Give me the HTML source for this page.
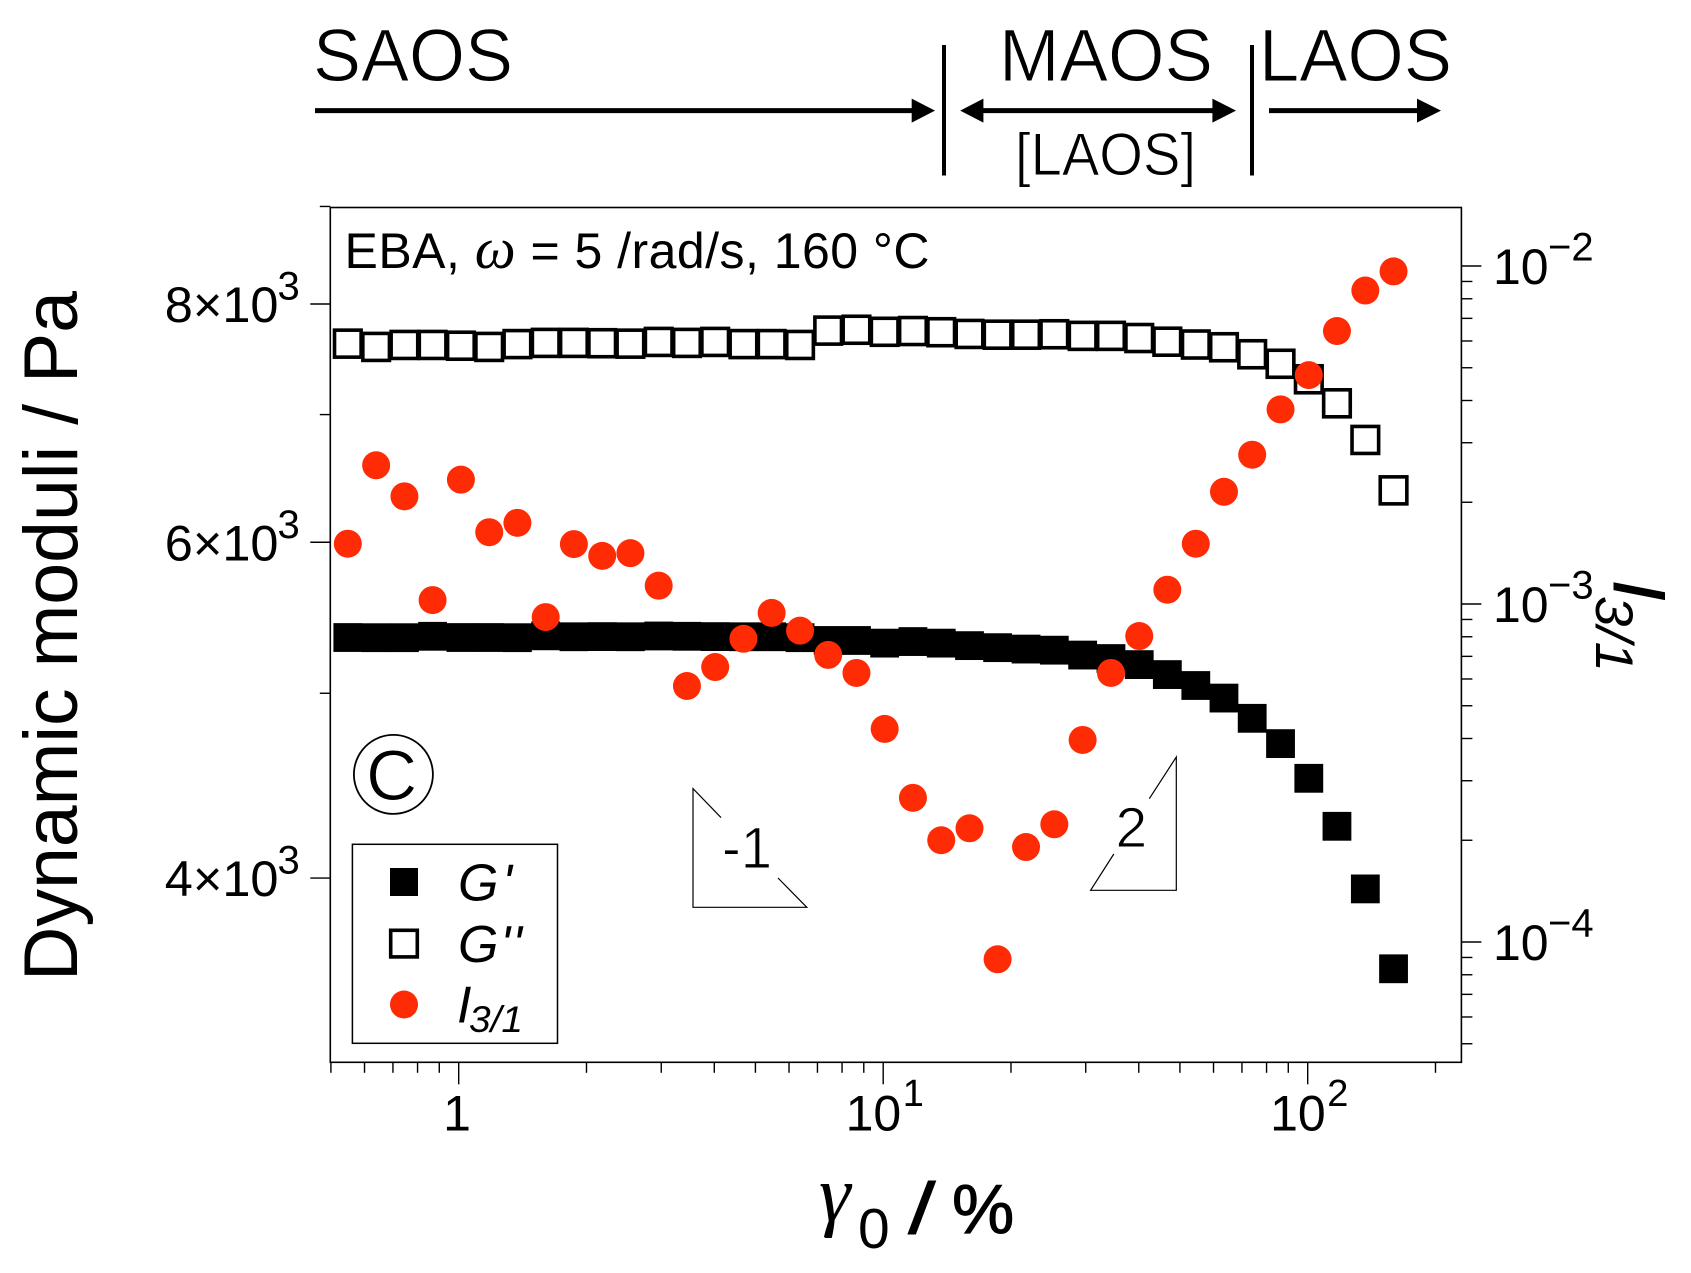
<!DOCTYPE html>
<html lang="en">
<head>
<meta charset="utf-8">
<title>Dynamic moduli and I3/1 versus strain amplitude</title>
<style>
html,body{margin:0;padding:0;background:#fff;}
svg{display:block;}
text{font-family:"Liberation Sans",sans-serif;fill:#000;}
.thin{stroke:#fff;stroke-width:1px;}
</style>
</head>
<body>
<svg id="chart" xmlns="http://www.w3.org/2000/svg" width="1691" height="1273" viewBox="0 0 1691 1273">
  <rect x="0" y="0" width="1691" height="1273" fill="#fff"/>

  <g>
    <text class="thin" x="313" y="81" font-size="74" textLength="200" lengthAdjust="spacingAndGlyphs">SAOS</text>
    <text class="thin" x="999" y="81" font-size="74" textLength="214" lengthAdjust="spacingAndGlyphs">MAOS</text>
    <text class="thin" x="1259" y="81" font-size="74" textLength="193" lengthAdjust="spacingAndGlyphs">LAOS</text>
    <text class="thin" x="1015" y="175" font-size="60" textLength="181" lengthAdjust="spacingAndGlyphs">[LAOS]</text>
    <line x1="315" y1="110.6" x2="915" y2="110.6" stroke="#000" stroke-width="5"/>
    <polygon points="911.7,98.6 935,110.6 911.7,122.6" fill="#000"/>
    <line x1="980" y1="110.6" x2="1216" y2="110.6" stroke="#000" stroke-width="5"/>
    <polygon points="983.4,98.6 960.2,110.6 983.4,122.6" fill="#000"/>
    <polygon points="1212.4,98.6 1236,110.6 1212.4,122.6" fill="#000"/>
    <line x1="1269" y1="110.6" x2="1420" y2="110.6" stroke="#000" stroke-width="5"/>
    <polygon points="1417,98.6 1441,110.6 1417,122.6" fill="#000"/>
    <line x1="944" y1="45" x2="944" y2="175.5" stroke="#000" stroke-width="4"/>
    <line x1="1252" y1="45" x2="1252" y2="175.5" stroke="#000" stroke-width="4"/>
  </g>

  <rect x="330.3" y="207.5" width="1131.1" height="854.8" fill="none" stroke="#000" stroke-width="1.6"/>
  <g id="ticks"></g>
  <g id="tick-labels"></g>

  <text transform="translate(77,981) rotate(-90)" font-size="76" textLength="690" lengthAdjust="spacingAndGlyphs">Dynamic moduli / Pa</text>

  <g>
    <text x="819" y="1221" font-size="80" font-style="italic" style="font-family:'Liberation Serif',serif">γ</text>
    <text x="858" y="1248" font-size="57">0</text>
    <text x="910" y="1233" font-size="72" font-weight="bold" font-style="italic">/</text>
    <text x="952" y="1233" font-size="70" stroke="#000" stroke-width="1">%</text>
  </g>

  <g>
    <text transform="translate(1614,580) rotate(90)" font-size="73" font-style="italic" stroke="#000" stroke-width="1">I</text>
    <text transform="translate(1596,596) rotate(90)" font-size="53" font-style="italic" textLength="76" lengthAdjust="spacingAndGlyphs">3/1</text>
  </g>

  <text x="344.5" y="268" font-size="50" textLength="585" lengthAdjust="spacing">EBA, <tspan font-style="italic" font-size="58" style="font-family:'Liberation Serif',serif">ω</tspan> = 5 /rad/s, 160 °C</text>

  <g>
    <circle cx="393.4" cy="774.4" r="39.5" fill="none" stroke="#000" stroke-width="1.8"/>
    <text class="thin" x="366" y="800" font-size="71">C</text>
  </g>

  <g>
    <polyline points="721,817.6 693,788.6 693,907.3 806.8,907.3 778,878" fill="none" stroke="#000" stroke-width="1.2"/>
    <text class="thin" x="722" y="868" font-size="58" textLength="50" lengthAdjust="spacingAndGlyphs">-1</text>
  </g>
  <g>
    <polyline points="1149.3,798.7 1176.3,757 1176.3,890.3 1090.6,890.3 1113.8,854" fill="none" stroke="#000" stroke-width="1.2"/>
    <text class="thin" x="1115.5" y="847" font-size="57">2</text>
  </g>

  <g id="series-g-prime"></g>
  <g id="series-g-double-prime"></g>
  <g id="series-i31"></g>

  <g>
    <rect x="352.4" y="844.3" width="205.1" height="199" fill="#fff" fill-opacity="0" stroke="#000" stroke-width="1.5"/>
    <rect x="390" y="868" width="28" height="28" fill="#000"/>
    <text x="458" y="900.4" font-size="52" font-style="italic" textLength="54" lengthAdjust="spacing">G'</text>
    <rect x="390.7" y="930.3" width="26.6" height="26.6" fill="none" stroke="#000" stroke-width="3.6"/>
    <text x="458" y="961.8" font-size="52" font-style="italic" textLength="64" lengthAdjust="spacing">G''</text>
    <circle cx="404" cy="1004.5" r="14" fill="#ff2b05"/>
    <text x="457" y="1022.3" font-size="52" font-style="italic">I</text>
    <text x="469" y="1032" font-size="37" font-style="italic" textLength="54" lengthAdjust="spacingAndGlyphs">3/1</text>
  </g>
</svg>

<script>
var strainValues = [0.548,0.639,0.745,0.868,1.012,1.18,1.375,1.603,1.868,2.178,2.538,2.959,3.449,4.02,4.686,5.46,6.37,7.42,8.65,10.08,11.75,13.7,15.97,18.6,21.7,25.3,29.5,34.4,40.1,46.7,54.5,63.5,74.0,86.3,100.6,117.2,136.7,159.3];
var gPrimeValues = [5348,5347,5347,5356,5348,5348,5347,5359,5353,5354,5353,5358,5356,5354,5353,5353,5347,5329,5329,5312,5322,5312,5296,5283,5274,5267,5236,5214,5176,5114,5047,4971,4851,4705,4512,4258,3948,3585];
var gDoublePrimeValues = [7626,7596,7614,7614,7607,7596,7622,7633,7633,7630,7626,7642,7633,7642,7622,7622,7614,7747,7755,7736,7743,7732,7716,7709,7709,7713,7698,7698,7678,7644,7618,7593,7529,7443,7305,7096,6789,6388];
var i31Values = [1.508e-3,2.573e-3,2.082e-3,1.027e-3,2.333e-3,1.631e-3,1.738e-3,9.145e-4,1.504e-3,1.388e-3,1.414e-3,1.133e-3,5.72e-4,6.51e-4,7.89e-4,9.41e-4,8.34e-4,7.07e-4,6.25e-4,4.27e-4,2.67e-4,2.0e-4,2.17e-4,8.89e-5,1.91e-4,2.23e-4,3.96e-4,6.25e-4,8.04e-4,1.102e-3,1.508e-3,2.148e-3,2.765e-3,3.765e-3,4.755e-3,6.42e-3,8.46e-3,9.64e-3];

var xMajorTicks = [1,10,100];
var xMajorBases = ["1","10","10"];
var xMajorExponents = ["","1","2"];
var xMinorTicks = [0.5,0.6,0.7,0.8,0.9,2,3,4,5,6,7,8,9,20,30,40,50,60,70,80,90,200];
var leftMajorTicks = [8000,6000,4000];
var leftMajorBases = ["8×10","6×10","4×10"];
var leftMajorExponents = ["3","3","3"];
var leftMinorTicks = [9000,7000,5000];
var rightMajorTicks = [1e-2,1e-3,1e-4];
var rightMajorBases = ["10","10","10"];
var rightMajorExponents = ["−2","−3","−4"];
var rightMinorTicks = [9e-3,8e-3,7e-3,6e-3,5e-3,4e-3,3e-3,2e-3,9e-4,8e-4,7e-4,6e-4,5e-4,4e-4,3e-4,2e-4,9e-5,8e-5,7e-5,6e-5,5e-5];

var SVG_NS = "http://www.w3.org/2000/svg";
var PLOT_LEFT = 330.3, PLOT_RIGHT = 1461.4, PLOT_BOTTOM = 1062.3;

function xScale(v){ return 458.7 + 424.5 * Math.log10(v); }
function yLeft(v){ return 304 + 1907 * Math.log10(8000 / v); }
function yRight(v){ return 266 + 338 * (-2 - Math.log10(v)); }

var ticksGroup = document.getElementById('ticks');
var labelsGroup = document.getElementById('tick-labels');

function addTick(name, x1, y1, x2, y2){
  var el = document.createElementNS(SVG_NS, 'line');
  
  
  el.setAttribute('x1', x1);
  el.setAttribute('y1', y1);
  el.setAttribute('x2', x2);
  el.setAttribute('y2', y2);
  el.setAttribute('stroke', '#000');
  el.setAttribute('stroke-width', '1.4');
  ticksGroup.appendChild(el);
}

function addLabel(name, str, x, y, size, anchor){
  var el = document.createElementNS(SVG_NS, 'text');
  
  
  el.setAttribute('x', x);
  el.setAttribute('y', y);
  el.setAttribute('font-size', size);
  el.setAttribute('text-anchor', anchor);
  el.textContent = str;
  labelsGroup.appendChild(el);
}

xMinorTicks.forEach(function(v){
  addTick('x-minor-tick', xScale(v), PLOT_BOTTOM, xScale(v), PLOT_BOTTOM + 10.5);
});
xMajorTicks.forEach(function(v, i){
  var px = xScale(v);
  addTick('x-major-tick', px, PLOT_BOTTOM, px, PLOT_BOTTOM + 22);
  if (xMajorExponents[i] === "") {
    addLabel('x-tick-label', xMajorBases[i], px - 1.7, 1130.5, 50, 'middle');
  } else {
    addLabel('x-tick-label', xMajorBases[i], px + 18, 1130.5, 50, 'end');
    addLabel('x-tick-exponent', xMajorExponents[i], px + 19.5, 1106, 38, 'start');
  }
});

leftMinorTicks.forEach(function(v){
  addTick('left-minor-tick', PLOT_LEFT - 10.5, yLeft(v), PLOT_LEFT, yLeft(v));
});
leftMajorTicks.forEach(function(v, i){
  var py = yLeft(v);
  addTick('left-major-tick', PLOT_LEFT - 20, py, PLOT_LEFT, py);
  addLabel('left-tick-label', leftMajorBases[i], 278.5, py + 18, 50.5, 'end');
  addLabel('left-tick-exponent', leftMajorExponents[i], 277.5, py - 4.5, 40, 'start');
});

rightMinorTicks.forEach(function(v){
  addTick('right-minor-tick', PLOT_RIGHT, yRight(v), PLOT_RIGHT + 11, yRight(v));
});
rightMajorTicks.forEach(function(v, i){
  var py = yRight(v);
  addTick('right-major-tick', PLOT_RIGHT, py, PLOT_RIGHT + 20, py);
  addLabel('right-tick-label', rightMajorBases[i], 1493, py + 18, 50, 'start');
  addLabel('right-tick-exponent', rightMajorExponents[i], 1548, py - 5.5, 40, 'start');
});

var gPrimeGroup = document.getElementById('series-g-prime');
strainValues.forEach(function(x, i){
  var el = document.createElementNS(SVG_NS, 'rect');
  
  
  el.setAttribute('x', xScale(x) - 14.4);
  el.setAttribute('y', yLeft(gPrimeValues[i]) - 14.4);
  el.setAttribute('width', 28.8);
  el.setAttribute('height', 28.8);
  el.setAttribute('fill', '#000');
  gPrimeGroup.appendChild(el);
});

var gDoublePrimeGroup = document.getElementById('series-g-double-prime');
strainValues.forEach(function(x, i){
  var el = document.createElementNS(SVG_NS, 'rect');
  
  
  el.setAttribute('x', xScale(x) - 13.3);
  el.setAttribute('y', yLeft(gDoublePrimeValues[i]) - 13.5);
  el.setAttribute('width', 26.6);
  el.setAttribute('height', 27);
  el.setAttribute('fill', 'none');
  el.setAttribute('stroke', '#000');
  el.setAttribute('stroke-width', '3.6');
  gDoublePrimeGroup.appendChild(el);
});

var i31Group = document.getElementById('series-i31');
strainValues.forEach(function(x, i){
  var el = document.createElementNS(SVG_NS, 'circle');
  
  
  el.setAttribute('cx', xScale(x));
  el.setAttribute('cy', yRight(i31Values[i]));
  el.setAttribute('r', 14);
  el.setAttribute('fill', '#ff2b05');
  i31Group.appendChild(el);
});
</script>
</body>
</html>
